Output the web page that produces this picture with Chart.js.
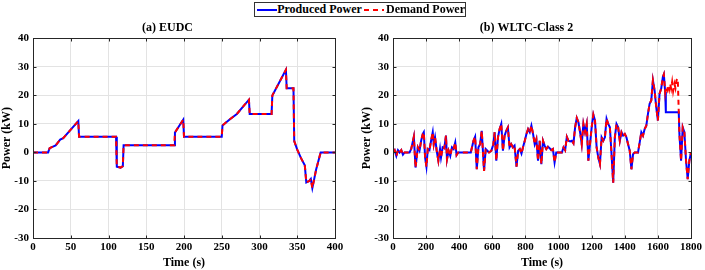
<!DOCTYPE html>
<html>
<head>
<meta charset="utf-8">
<script src="https://cdn.jsdelivr.net/npm/chart.js@4.4.0/dist/chart.umd.min.js"></script>
<style>
  body { margin: 0; background: #fff; width: 705px; height: 270px; position: relative; overflow: hidden; }
  canvas { position: absolute; top: 0; }
  #eudc { left: 0; }
  #wltc { left: 360px; }
  #legend {
    position: absolute; left: 254px; top: 2px; width: 210px; height: 13px;
    border: 1px solid #333; background: #fff;
    font: bold 12px 'Liberation Serif', serif; color: #000;
    display: flex; align-items: center; white-space: nowrap; line-height: 13px;
  }
  #legend svg { display: block; }
</style>
</head>
<body>
<canvas id="eudc" width="350" height="270"></canvas>
<canvas id="wltc" width="345" height="270"></canvas>
<div id="legend">
  <svg width="24" height="6" style="margin-left:2px"><line x1="0" y1="3" x2="22" y2="3" stroke="#0000ff" stroke-width="2"/></svg>
  <span>Produced Power</span>
  <svg width="24" height="6" style="margin-left:2px"><line x1="0" y1="3" x2="22" y2="3" stroke="#ff0000" stroke-width="2" stroke-dasharray="5,4"/></svg>
  <span style="margin-left:2px">Demand Power</span>
</div>
<script>
// (a) EUDC - produced and demand power overlap everywhere
const eudcTime  = [0, 20, 22, 30, 36, 40, 50, 60, 61, 110,
                   111, 116, 119, 120, 187, 188, 199, 200, 250, 251,
                   260, 270, 286, 287, 316, 317, 335, 336, 345, 346,
                   350, 355, 360, 362, 366, 368, 370, 375, 381, 400];
const eudcPower = [0, 0, 1.5, 2.5, 4.5, 5, 8, 11, 5.5, 5.5,
                   -5, -5.3, -4.8, 2.5, 2.5, 7, 11.5, 5.5, 5.5, 9.5,
                   11.5, 13.5, 18.5, 13.5, 13.5, 20, 29, 22.5, 22.5, 4,
                   1, -2, -4.5, -10.5, -10, -9.3, -12.5, -6, 0, 0];

// (b) WLTC-Class 2
const wltcTime = [0, 10, 20, 30, 40, 50, 60, 70, 100, 110,
                  126, 136, 150, 160, 170, 180, 186, 194, 202, 210,
                  220, 230, 240, 246, 254, 264, 274, 284, 290, 300,
                  310, 320, 326, 336, 346, 356, 366, 376, 384, 394,
                  470, 486, 496, 506, 516, 526, 536, 550, 560, 570,
                  580, 594, 606, 614, 624, 634, 644, 654, 664, 674,
                  684, 694, 704, 714, 724, 734, 746, 756, 766, 776,
                  786, 796, 806, 816, 826, 836, 846, 856, 866, 876,
                  886, 896, 906, 916, 926, 936, 946, 956, 966, 976,
                  986, 1020, 1030, 1040, 1050, 1060, 1070, 1080, 1090, 1100,
                  1110, 1120, 1130, 1140, 1150, 1160, 1170, 1180, 1190, 1200,
                  1210, 1220, 1230, 1240, 1250, 1260, 1270, 1280, 1290, 1300,
                  1310, 1320, 1330, 1340, 1350, 1360, 1370, 1380, 1390, 1400,
                  1410, 1420, 1430, 1440, 1450, 1460, 1480, 1490, 1500, 1510,
                  1520, 1530, 1540, 1550, 1560, 1570, 1580, 1590, 1600, 1610,
                  1620, 1630, 1636, 1644, 1648, 1656, 1662, 1668, 1674, 1680,
                  1686, 1692, 1700, 1706, 1712, 1720, 1726, 1730, 1740, 1750,
                  1760, 1770, 1780, 1790, 1800];
const wltcProduced = [0, 0.8, -1.2, 0.8, 0, 0.8, -0.8, 0, 0, 1.2,
                  5.5, -5.3, 1.8, 0.6, 4.1, 6.5, 7.1, -1.8, -5.0, 1.2,
                  0.8, 4.1, 7.1, 2.9, 5.3, 0.6, -2.9, 1.2, -1.8, 1.8,
                  1.5, 5.9, -2.4, 0.6, -1.2, 1.8, 1.2, 3.5, -0.9, 0,
                  0, 4.1, 5.5, -5.9, 1.8, 2.9, 7.6, -6.5, 1.2, 0.6,
                  0, 0.6, 2.9, 7.1, -2.9, 5.3, 8.2, 10.0, 0.6, 5.9,
                  7.6, 8.8, 1.8, 2.9, 1.8, 2.4, -5.0, 0.6, 1.2, -0.4,
                  2.0, 4.1, 6.5, 8.2, 7.1, 9.4, 6.5, 2.9, 4.7, -2.9,
                  4.1, -4.1, 4.1, 2.4, 1.2, 2.0, 1.5, 0.8, 1.2, -3.5,
                  0, 0, 1.8, 0.8, 5.5, 4.1, 3.9, 4.1, 3.2, 8.8,
                  12.1, 10.6, 7.1, 2.9, 10.0, 7.1, 10.0, -2.9, 2.9, 8.8,
                  13.3, 11.2, 1.8, -1.8, -4.1, 5.3, 4.1, 5.3, 11.8, 10.0,
                  8.8, -0.6, -10.6, 5.3, 10.0, 8.8, 4.1, 7.1, 5.9, 6.5,
                  5.3, 2.9, 0.6, -5.9, -0.6, 0, 0, 3.5, 7.1, 5.9,
                  8.2, 9.4, 13.5, 17.1, 18.2, 25.3, 21.8, 15.9, 11.2, 20.6,
                  22.4, 26.5, 27.4, 21.2, 14.1, 14.1, 14.1, 14.1, 14.1, 14.1,
                  14.1, 14.1, 14.1, 14.1, 14.1, 14.1, 14.1, 6.5, -2.9, 8.8,
                  7.1, -2.9, -9.4, -2.9, 0];
// demand only departs from produced power between these times
const wltcDemandTime = [1648, 1656, 1662, 1668, 1674, 1680, 1686, 1692, 1700, 1706, 1712, 1720, 1726];
const wltcDemandGap  = [23.0, 21.8, 23.5, 22.0, 24.1, 22.4, 24.7, 21.5, 24.1, 22.6, 25.3, 25.9, 14.5];

const toPoints = (xs, ys) => xs.map((x, i) => ({ x: x, y: ys[i] }));

const wltcProducedPts = toPoints(wltcTime, wltcProduced);
const wltcDemandPts = wltcProducedPts.filter(p => p.x < wltcDemandTime[0])
  .concat(toPoints(wltcDemandTime, wltcDemandGap))
  .concat(wltcProducedPts.filter(p => p.x > wltcDemandTime[wltcDemandTime.length - 1]));

const serif = "'Liberation Serif', serif";

// MATLAB style box with inward tick marks
const boxPlugin = {
  id: 'box',
  afterDraw(chart) {
    const { ctx, chartArea: a, scales } = chart;
    const l = Math.round(a.left) + 0.5, r = Math.round(a.right) + 0.5;
    const t = Math.round(a.top) + 0.5, b = Math.round(a.bottom) + 0.5;
    ctx.save();
    ctx.strokeStyle = '#262626';
    ctx.lineWidth = 1;
    ctx.strokeRect(l, t, r - l, b - t);
    ctx.beginPath();
    scales.x.ticks.forEach(tk => {
      const px = Math.round(scales.x.getPixelForValue(tk.value)) + 0.5;
      ctx.moveTo(px, b); ctx.lineTo(px, b - 3);
      ctx.moveTo(px, t); ctx.lineTo(px, t + 3);
    });
    scales.y.ticks.forEach(tk => {
      const py = Math.round(scales.y.getPixelForValue(tk.value)) + 0.5;
      ctx.moveTo(l, py); ctx.lineTo(l + 3, py);
      ctx.moveTo(r, py); ctx.lineTo(r - 3, py);
    });
    ctx.stroke();
    ctx.restore();
  }
};

function makeChart(id, title, produced, demand, xMax, xStep, padRight) {
  return new Chart(document.getElementById(id), {
    type: 'line',
    data: {
      datasets: [
        {
          label: 'Produced Power',
          data: produced,
          borderColor: '#0000ff',
          borderWidth: 2,
          pointRadius: 0,
          tension: 0,
          order: 2, // drawn first, red dashes sit on top
        },
        {
          label: 'Demand Power',
          data: demand,
          borderColor: '#ff0000',
          borderWidth: 2,
          borderDash: [5, 4],
          pointRadius: 0,
          tension: 0,
          order: 1,
        },
      ],
    },
    options: {
      responsive: false,
      animation: false,
      layout: { padding: { right: padRight, left: 0, top: 0, bottom: 0 } },
      plugins: {
        legend: { display: false },
        tooltip: { enabled: false },
        title: {
          display: true,
          text: title,
          color: '#000',
          font: { family: serif, size: 12, weight: 'bold' },
          padding: { top: 21, bottom: 3 },
        },
      },
      scales: {
        x: {
          type: 'linear',
          min: 0,
          max: xMax,
          ticks: {
            stepSize: xStep,
            color: '#000',
            font: { family: serif, size: 11, weight: 'bold' },
            padding: 3,
            maxRotation: 0,
            autoSkip: false,
            callback: v => String(v),
          },
          grid: { color: '#e3e3e3', drawTicks: false },
          border: { display: false },
          title: {
            display: true,
            text: 'Time (s)',
            color: '#000',
            font: { family: serif, size: 12, weight: 'bold' },
            padding: 0,
          },
          afterFit: s => { s.height = 32; },
        },
        y: {
          min: -30,
          max: 40,
          ticks: {
            stepSize: 10,
            color: '#000',
            font: { family: serif, size: 11, weight: 'bold' },
            padding: 4,
            callback: v => String(v),
          },
          grid: { color: '#e3e3e3', drawTicks: false },
          border: { display: false },
          title: {
            display: true,
            text: 'Power (kW)',
            color: '#000',
            font: { family: serif, size: 12, weight: 'bold' },
            padding: 0,
          },
          afterFit: s => { s.width = 33; },
        },
      },
    },
    plugins: [boxPlugin],
  });
}

makeChart('eudc', '(a) EUDC', toPoints(eudcTime, eudcPower), toPoints(eudcTime, eudcPower), 400, 50, 15);
makeChart('wltc', '(b) WLTC-Class 2', wltcProducedPts, wltcDemandPts, 1800, 200, 12);
</script>
</body>
</html>
